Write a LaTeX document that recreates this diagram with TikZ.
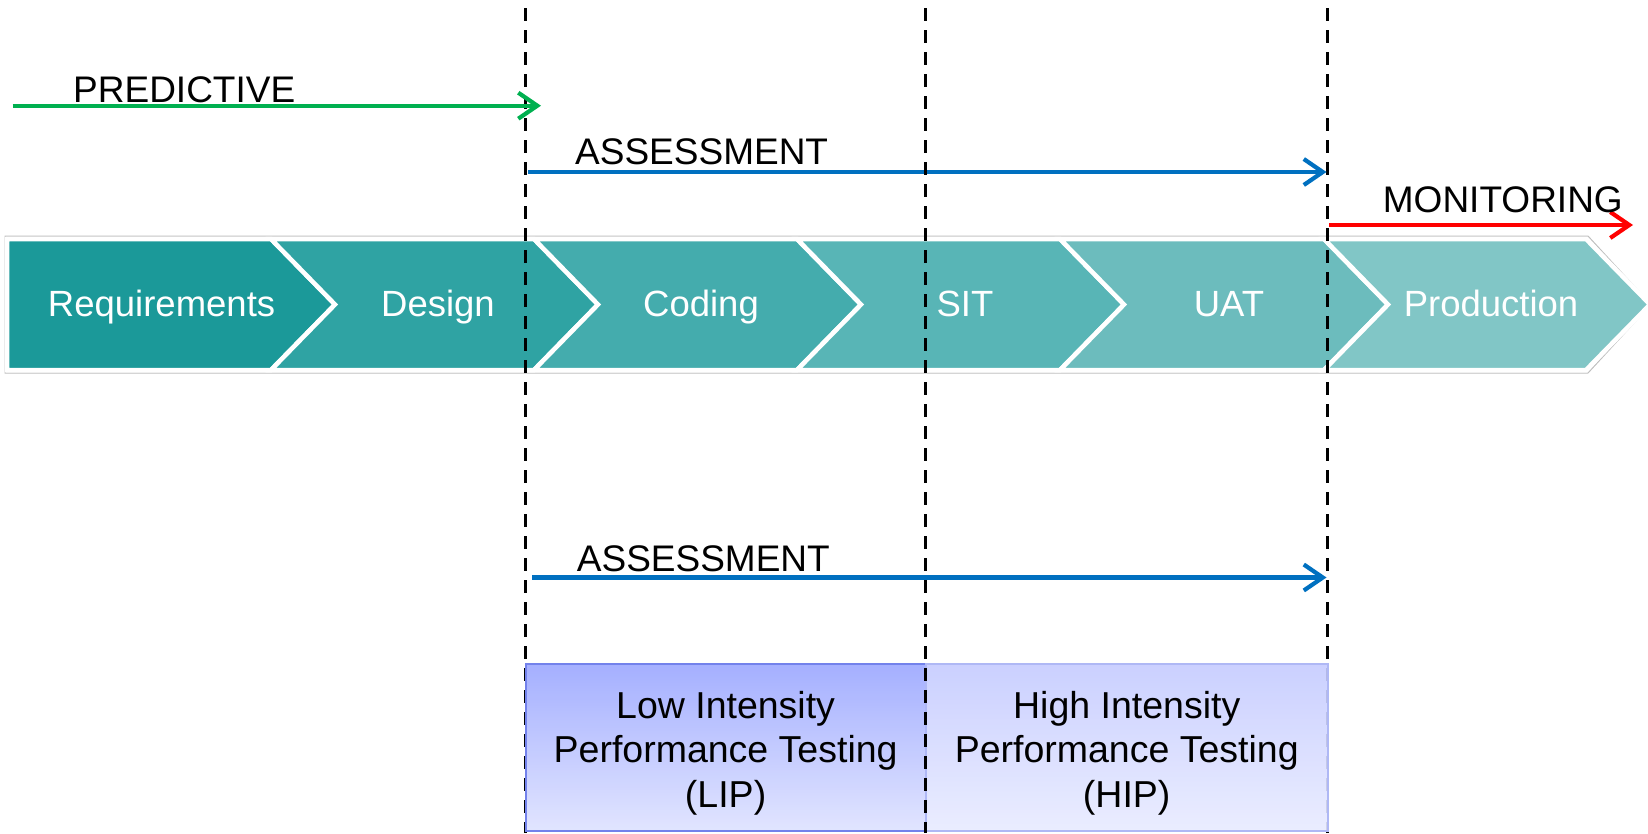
\documentclass[tikz,border=0pt]{standalone}
\usepackage{fontspec}
\setmainfont{Liberation Sans}
\usetikzlibrary{arrows.meta}
\definecolor{cA}{RGB}{27,153,153}
\definecolor{cB}{RGB}{47,163,163}
\definecolor{cC}{RGB}{68,172,173}
\definecolor{cD}{RGB}{88,181,182}
\definecolor{cE}{RGB}{108,188,189}
\definecolor{cF}{RGB}{129,198,198}
\definecolor{pgreen}{RGB}{0,176,80}
\definecolor{pblue}{RGB}{0,112,192}
\definecolor{pred}{RGB}{255,0,0}
\definecolor{lipT}{RGB}{155,167,255}
\definecolor{lipB}{RGB}{222,226,255}
\definecolor{lipD}{RGB}{115,130,235}
\definecolor{hipT}{RGB}{197,203,255}
\definecolor{hipB}{RGB}{232,235,255}
\definecolor{hipD}{RGB}{175,184,245}
\begin{document}
\begin{tikzpicture}[x=1pt,y=-1pt,
  chev/.style={draw=white,line width=4.5pt,line join=miter},
  lab/.style={inner sep=0pt,anchor=base,text=white,font=\fontsize{36.5}{44}\selectfont},
  tag/.style={inner sep=0pt,anchor=base west,font=\fontsize{37}{44}\selectfont},
  vdash/.style={line width=3.3pt,dash pattern=on 13pt off 9pt,dash phase=14pt},
  arr/.style={line width=4.2pt,-{Straight Barb[length=19pt,width=26pt]}},
  pbox/.style={rectangle,minimum width=400pt,minimum height=167pt,line width=1.8pt,fill opacity=0.9,inner sep=0pt},
  boxtext/.style={align=center,font=\fontsize{37.5}{44.7}\selectfont,inner sep=0pt}]
\useasboundingbox (0,0) rectangle (1648,833);

% band outline
\draw[draw=black!25,line width=1pt] (5,236) -- (1588,236) -- (1651,304.5) -- (1588,373) -- (5,373) -- cycle;

% chevrons
\filldraw[chev,fill=cA] (7,239) -- (271,239) -- (335,304.5) -- (271,370) -- (7,370) -- cycle;
\filldraw[chev,fill=cB] (271,239) -- (534,239) -- (598,304.5) -- (534,370) -- (271,370) -- (335,304.5) -- cycle;
\filldraw[chev,fill=cC] (534,239) -- (797,239) -- (861,304.5) -- (797,370) -- (534,370) -- (598,304.5) -- cycle;
\filldraw[chev,fill=cD] (797,239) -- (1060,239) -- (1124,304.5) -- (1060,370) -- (797,370) -- (861,304.5) -- cycle;
\filldraw[chev,fill=cE] (1060,239) -- (1324,239) -- (1388,304.5) -- (1324,370) -- (1060,370) -- (1124,304.5) -- cycle;
\filldraw[chev,fill=cF] (1324,239) -- (1586,239) -- (1650,304.5) -- (1586,370) -- (1324,370) -- (1388,304.5) -- cycle;

\node[lab] (req) at (161.6,316) {Requirements};
\node[lab] (des) at (438,316) {Design};
\node[lab] (cod) at (701,316) {Coding};
\node[lab] (sit) at (965,316) {SIT};
\node[lab] (uat) at (1229,316) {UAT};
\node[lab] (prd) at (1491,316) {Production};

% vertical dashed lines (outer)
\coordinate (v1t) at (525.5,0);   \coordinate (v1b) at (525.5,833);
\coordinate (v3t) at (1327.5,0);  \coordinate (v3b) at (1327.5,833);
\coordinate (v2t) at (925.7,0);   \coordinate (v2b) at (925.7,833);
\draw[vdash] (v1t) -- (v1b);
\draw[vdash] (v3t) -- (v3b);

% arrows
\coordinate (g0) at (12.7,105.7);  \coordinate (g1) at (541,105.7);
\coordinate (b0) at (528,172);     \coordinate (b1) at (1326.5,172);
\coordinate (r0) at (1329,225);    \coordinate (r1) at (1633,225);
\coordinate (c0) at (532,577.5);   \coordinate (c1) at (1326.5,577.5);
\draw[arr,pgreen] (g0) -- (g1);
\draw[arr,pblue] (b0) -- (b1);
\draw[arr,pred] (r0) -- (r1);
\draw[arr,pblue] (c0) -- (c1);

\node[tag] (tpred) at (73,102.7) {PREDICTIVE};
\node[tag] (tass1) at (575,164) {ASSESSMENT};
\node[tag] (tmon) at (1382.7,212.7) {MONITORING};
\node[tag] (tass2) at (576.7,571.7) {ASSESSMENT};

% boxes
\node[pbox,top color=lipT,bottom color=lipB,draw=lipD] (lip) at (725.6,747.5) {};
\node[pbox,minimum width=402pt,top color=hipT,bottom color=hipB,draw=hipD] (hip) at (1126.7,747.5) {};
\node[boxtext] (liptxt) at ([yshift=-5.5pt]lip.center) {Low Intensity\\Performance Testing\\(LIP)};
\node[boxtext] (hiptxt) at ([yshift=-5.5pt]hip.center) {High Intensity\\Performance Testing\\(HIP)};

% middle dashed line on top
\draw[vdash] (v2t) -- (v2b);
\end{tikzpicture}
\end{document}
